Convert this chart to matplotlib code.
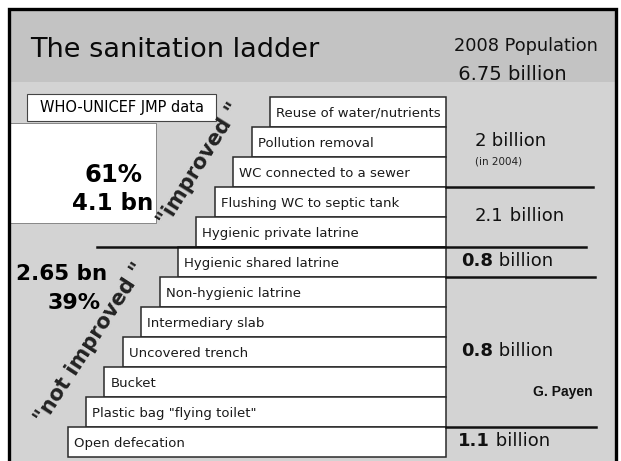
import matplotlib.pyplot as plt
from matplotlib.patches import Rectangle

# ladder rungs, top (best) to bottom
RUNGS = [
    "Reuse of water/nutrients",
    "Pollution removal",
    "WC connected to a sewer",
    "Flushing WC to septic tank",
    "Hygienic private latrine",
    "Hygienic shared latrine",
    "Non-hygienic latrine",
    "Intermediary slab",
    "Uncovered trench",
    "Bucket",
    'Plastic bag "flying toilet"',
    "Open defecation",
]

# population per group of rungs (first rung index, last rung index + 1)
GROUP_SPANS  = [(0, 3), (3, 5), (5, 6), (6, 11), (11, 12)]
GROUP_VALUES = ["2", "2.1", "0.8", "0.8", "1.1"]
GROUP_NOTES  = ["(in 2004)", "", "", "", ""]

IMPROVED     = ["61%", "4.1 bn"]
NOT_IMPROVED = ["2.65 bn", "39%"]

TITLE      = "The sanitation ladder"
POPULATION = ["2008 Population", " 6.75 billion"]
SOURCE     = "WHO-UNICEF JMP data"
AUTHOR     = "G. Payen"

# layout, in pixels of the 621x461 picture
W, H      = 621, 461
TOP       = 97
ROW_H     = 30
RIGHT     = 446
LEFT0     = 270
STEP      = 18.4
BAR_GRAY  = "#c3c3c3"
BODY_GRAY = "#d3d3d3"

fig = plt.figure(figsize=(W / 100, H / 100), dpi=100)
ax = fig.add_axes([0, 0, 1, 1])
ax.set_xlim(0, W)
ax.set_ylim(H, 0)
ax.axis("off")

# slide background and frame
ax.add_patch(Rectangle((8, 8), 608, 74, facecolor=BAR_GRAY, edgecolor="none", zorder=0))
ax.add_patch(Rectangle((8, 82), 608, 400, facecolor=BODY_GRAY, edgecolor="none", zorder=0))
ax.plot([9, 9, 615.5, 615.5], [470, 9, 9, 470], color="black", lw=2.4,
        solid_joinstyle="miter", zorder=5)

ax.text(30, 50, TITLE, fontsize=19.5, va="center", ha="left", color="#0a0a0a")
ax.text(454, 46, POPULATION[0], fontsize=12.8, va="center", ha="left", color="#111111")
ax.text(452, 74, POPULATION[1], fontsize=14, va="center", ha="left", color="#111111")

# ladder rungs
n = len(RUNGS)
centers = [TOP + ROW_H * (i + 0.5) for i in range(n)]
lefts = [LEFT0 - STEP * i for i in range(n)]
ax.barh(centers, [RIGHT - l for l in lefts], left=lefts, height=ROW_H,
        color="white", edgecolor="#2a2a2a", linewidth=1.1, zorder=2)
for label, y, l in zip(RUNGS, centers, lefts):
    ax.text(l + 6, y + 1, label, fontsize=9.5, va="center", ha="left",
            color="#1a1a1a", zorder=3)

# population per group on the right
group_x   = [475, 475, 461, 461, 458]
line_from = [RIGHT, 97, RIGHT, RIGHT]
line_to   = [593, 586, 595, 596]
for k, ((a, b), val, note) in enumerate(zip(GROUP_SPANS, GROUP_VALUES, GROUP_NOTES)):
    yc = TOP + ROW_H * (a + b) / 2
    bold = k >= 2
    t = ax.text(group_x[k], yc + 8, val, fontsize=13, va="bottom", ha="left",
                fontweight="bold" if bold else "normal", color="#111111")
    ax.annotate(" billion", xy=(1, 0), xycoords=t, fontsize=13, va="bottom",
                ha="left", color="#111111")
    if note:
        ax.text(group_x[k], yc + 19, note, fontsize=7.5, va="center", ha="left",
                color="#222222")
    if k < len(line_to):
        yl = TOP + ROW_H * b
        ax.plot([line_from[k], line_to[k]], [yl, yl], color="#111111", lw=1.8, zorder=4)

# source box and shares
ax.add_patch(Rectangle((27, 94), 189, 27, facecolor="white", edgecolor="#444444",
                       lw=0.8, zorder=2))
ax.text(121.5, 107.5, SOURCE, fontsize=10.5, va="center", ha="center", zorder=3)

ax.add_patch(Rectangle((9, 123), 147, 100, facecolor="white", edgecolor="#777777",
                       lw=0.6, zorder=2))
ax.text(113, 175, IMPROVED[0], fontsize=17.5, fontweight="bold", va="center", ha="center", zorder=3)
ax.text(113, 203, IMPROVED[1], fontsize=16.5, fontweight="bold", va="center", ha="center", zorder=3)

ax.text(16, 274, NOT_IMPROVED[0], fontsize=15.5, fontweight="bold", va="center", ha="left")
ax.text(101, 303, NOT_IMPROVED[1], fontsize=16, fontweight="bold", va="center", ha="right")

ax.text(200, 164, '"improved "', rotation=58, rotation_mode="anchor", fontsize=15,
        fontweight="bold", va="center", ha="center", color="#222222", zorder=3)
ax.text(91, 343, '"not improved "', rotation=57, rotation_mode="anchor", fontsize=15,
        fontweight="bold", va="center", ha="center", color="#222222", zorder=3)

ax.text(593, 392, AUTHOR, fontsize=10, fontweight="bold", family="Liberation Sans",
        va="center", ha="right", color="#111111")

fig.savefig("out.png", dpi=100)
